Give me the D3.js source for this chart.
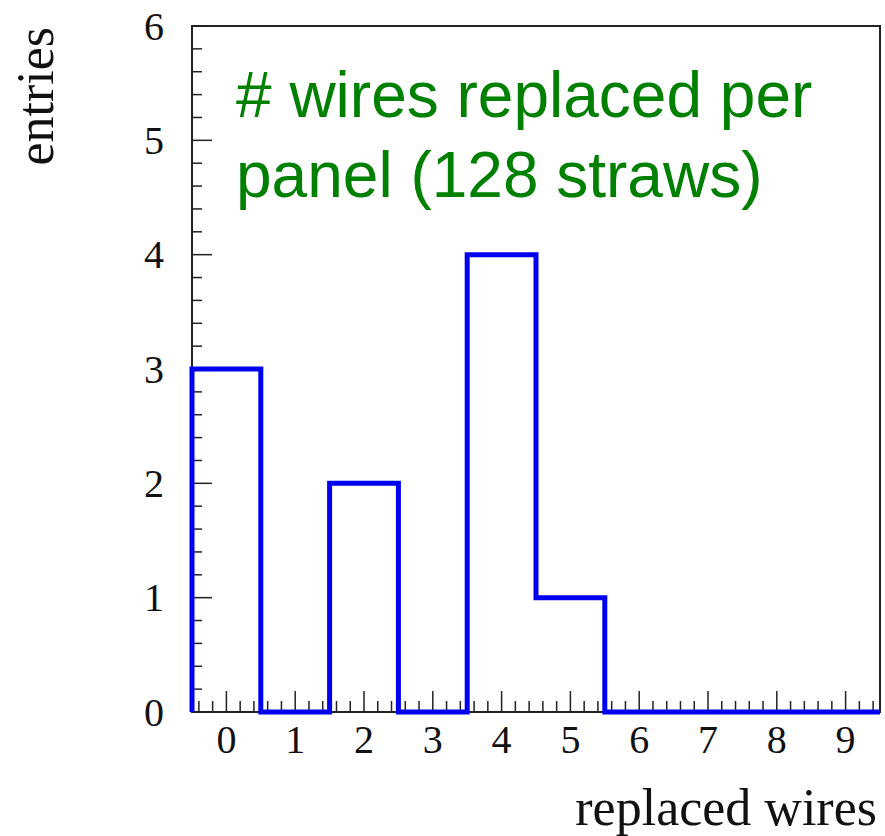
<!DOCTYPE html>
<html>
<head>
<meta charset="utf-8">
<script src="https://cdn.jsdelivr.net/npm/d3@7"></script>
<style>
  html, body { margin: 0; padding: 0; background: #fff; }
  svg { display: block; }
</style>
</head>
<body>
<svg id="chart" width="885" height="836"></svg>
<script>
// Histogram: number of wires replaced per panel
const binCenters = [0, 1, 2, 3, 4, 5, 6, 7, 8, 9];
const entries = [3, 0, 2, 0, 4, 1, 0, 0, 0, 0];
const xTickLabels = ["0", "1", "2", "3", "4", "5", "6", "7", "8", "9"];
const yTickLabels = ["0", "1", "2", "3", "4", "5", "6"];
const titleLines = ["# wires replaced per", "panel (128 straws)"];
const xTitle = "replaced wires";
const yTitle = "entries";

const svg = d3.select("#chart");
const frame = { left: 192, right: 880, top: 26, bottom: 712 };

const x = d3.scaleLinear().domain([-0.5, 9.5]).range([frame.left, frame.right]);
const y = d3.scaleLinear().domain([0, 6]).range([frame.bottom, frame.top]);

const serif = "'Liberation Serif', 'Times New Roman', serif";
const sans = "'Liberation Sans', Arial, Helvetica, sans-serif";

// Frame box
svg.append("rect")
  .attr("x", frame.left).attr("y", frame.top)
  .attr("width", frame.right - frame.left)
  .attr("height", frame.bottom - frame.top)
  .attr("fill", "none").attr("stroke", "#222").attr("stroke-width", 2);

// Tick marks pointing into the frame (5 subdivisions per unit)
const xMinor = d3.range(-2, 48).map(i => i / 5).filter(v => v > -0.5 && v < 9.5);
const yMinor = d3.range(0, 31).map(i => i / 5);

svg.append("g").selectAll("line").data(xMinor).join("line")
  .attr("x1", d => x(d)).attr("x2", d => x(d))
  .attr("y1", frame.bottom)
  .attr("y2", d => frame.bottom - (Math.abs(d - Math.round(d)) < 1e-6 ? 21 : 11))
  .attr("stroke", "#222").attr("stroke-width", 1.5);

svg.append("g").selectAll("line").data(yMinor).join("line")
  .attr("y1", d => y(d)).attr("y2", d => y(d))
  .attr("x1", frame.left)
  .attr("x2", d => frame.left + (Math.abs(d - Math.round(d)) < 1e-6 ? 20 : 10))
  .attr("stroke", "#222").attr("stroke-width", 1.5);

// Tick labels
svg.append("g").selectAll("text").data(xTickLabels).join("text")
  .attr("x", (d, i) => x(binCenters[i]))
  .attr("y", 753)
  .attr("text-anchor", "middle")
  .attr("font-family", serif).attr("font-size", 40).attr("fill", "#111")
  .text(d => d);

svg.append("g").selectAll("text").data(yTickLabels).join("text")
  .attr("x", 164)
  .attr("y", d => y(+d))
  .attr("dy", "0.34em")
  .attr("text-anchor", "end")
  .attr("font-family", serif).attr("font-size", 40).attr("fill", "#111")
  .text(d => d);

// Histogram outline
const edges = d3.range(entries.length + 1).map(i => i - 0.5);
const pts = [[edges[0], 0]];
entries.forEach((v, i) => { pts.push([edges[i], v]); pts.push([edges[i + 1], v]); });
pts.push([edges[edges.length - 1], 0]);

svg.append("path")
  .attr("d", d3.line().x(d => x(d[0])).y(d => y(d[1]))(pts))
  .attr("fill", "none").attr("stroke", "#0000f0")
  .attr("stroke-width", 5).attr("stroke-linejoin", "miter");

// Axis titles
svg.append("text")
  .attr("x", 877).attr("y", 825)
  .attr("text-anchor", "end")
  .attr("font-family", serif).attr("font-size", 52).attr("fill", "#111")
  .text(xTitle);

svg.append("text")
  .attr("transform", "translate(53,27) rotate(-90)")
  .attr("text-anchor", "end")
  .attr("font-family", serif).attr("font-size", 52).attr("fill", "#111")
  .text(yTitle);

// Green caption
svg.append("g").selectAll("text").data(titleLines).join("text")
  .attr("x", 236)
  .attr("y", (d, i) => 117 + i * 80)
  .attr("font-family", sans).attr("font-size", 64).attr("fill", "#008000")
  .text(d => d);
</script>
</body>
</html>
